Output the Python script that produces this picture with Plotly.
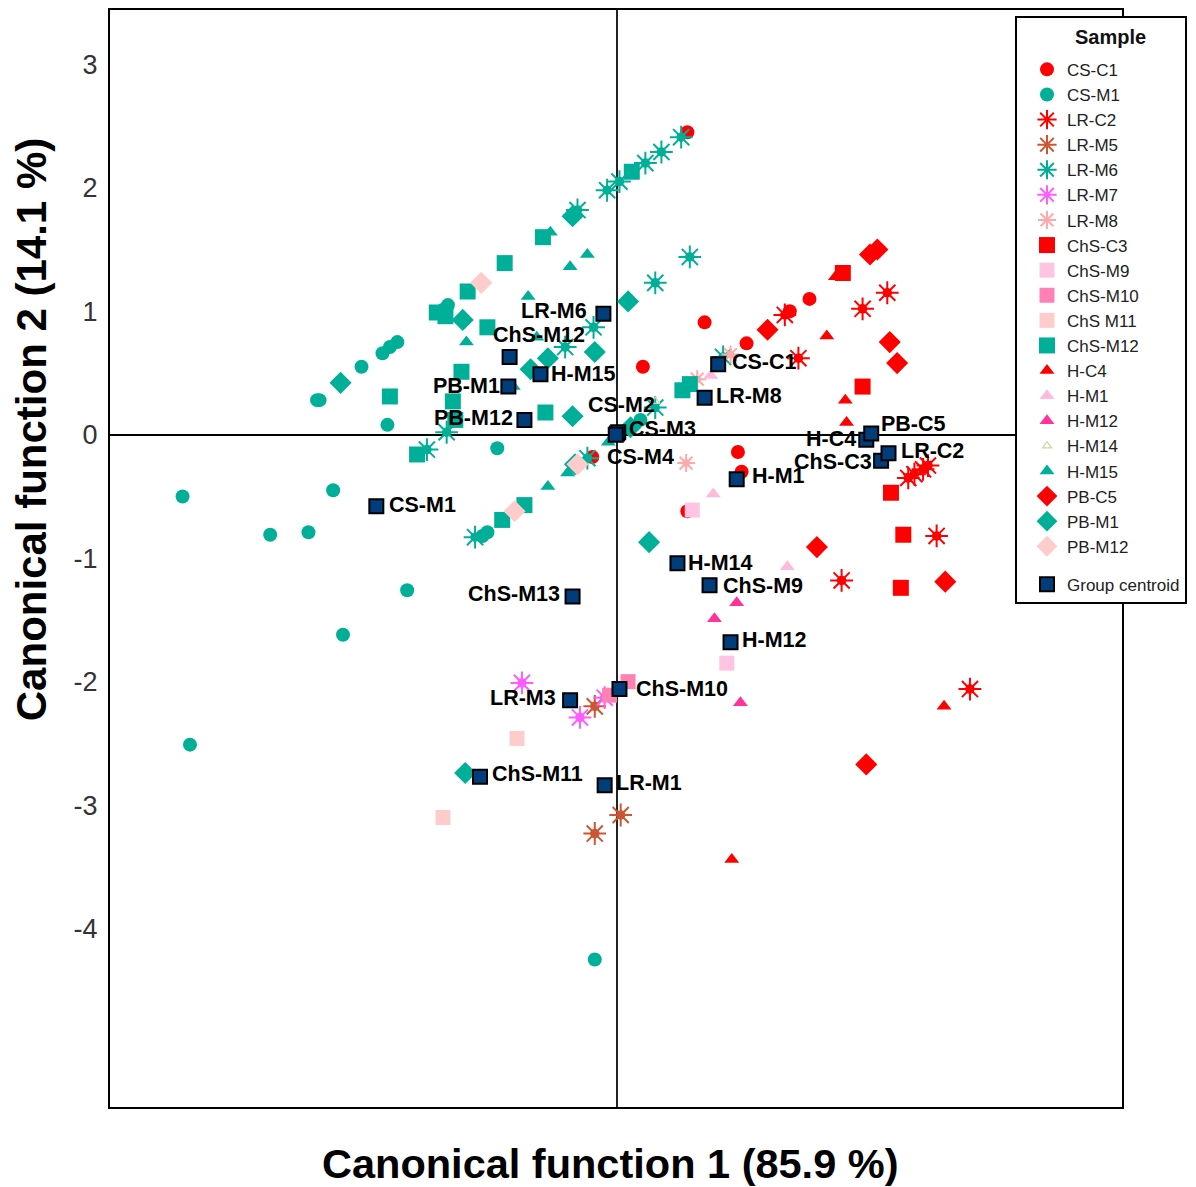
import plotly.graph_objects as go

FONT = "Liberation Sans"

# ---- discriminant scores (function 1, function 2) per sample group ----
cs_c1_x = [0.57, 0.71, 0.21, 0.98, 1.01, 1.05, 1.40, 1.56, 0.57, -0.20]
cs_c1_y = [2.45, 0.91, 0.55, -0.14, -0.30, 0.74, 1.00, 1.10, -0.62, -0.18]

cs_m1_x = [-3.52, -2.81, -2.50, -2.30, -1.70, -2.22, -3.46, -0.18, -1.86, -0.97,
           -2.41, -2.43, -2.07, -1.78, -1.84, -1.90, -1.05, -1.09, -1.41, -1.37, 0.19]
cs_m1_y = [-0.50, -0.81, -0.79, -0.45, -1.26, -1.62, -2.51, -4.25, 0.08, -0.11,
           0.28, 0.28, 0.55, 0.75, 0.71, 0.66, -0.79, -0.82, 1.01, 1.05, 0.12]

lr_c2_x = [2.19, 1.99, 1.47, 1.36, 2.59, 1.82, 2.86, 2.36, 2.48, 2.41, 2.52]
lr_c2_y = [1.15, 1.02, 0.62, 0.97, -0.82, -1.18, -2.06, -0.35, -0.28, -0.32, -0.25]

lr_m5_x = [-0.18, 0.03, -0.18]
lr_m5_y = [-2.20, -3.08, -3.23]

lr_m6_x = [0.52, 0.36, 0.23, 0.02, -0.08, -0.32, 0.59, 0.31, -0.19, -0.42,
           -1.38, -1.54, -1.15, 0.31, -0.24, 0.86]
lr_m6_y = [2.41, 2.29, 2.20, 2.05, 1.98, 1.82, 1.44, 1.23, 0.87, 0.71,
           0.02, -0.12, -0.83, 0.22, -0.19, 0.63]

lr_m7_x = [-0.77, -0.30, -0.10]
lr_m7_y = [-2.01, -2.29, -2.13]

lr_m8_x = [0.56, 0.65, 0.92]
lr_m8_y = [-0.23, 0.45, 0.65]

chs_c3_x = [1.83, 1.99, 2.22, 2.32, 2.30]
chs_c3_y = [1.31, 0.39, -0.47, -0.81, -1.24]

chs_m9_x = [0.61, 0.89]
chs_m9_y = [-0.61, -1.85]

chs_m10_x = [0.09, -0.06]
chs_m10_y = [-2.00, -2.11]

chs_m11_x = [-0.81, -1.41]
chs_m11_y = [-2.46, -3.10]

chs_m12_x = [0.12, -0.60, -0.91, -1.21, -1.46, -1.05, -1.26, -1.84, -1.33, -0.58,
             0.53, -1.62, -0.93, -0.75, -1.39, 0.59, -1.31]
chs_m12_y = [2.13, 1.60, 1.39, 1.16, 0.99, 0.87, 0.51, 0.31, 0.27, 0.18,
             0.36, -0.16, -0.69, -0.57, 0.96, 0.41, 0.12]

chs_m13_x = []
chs_m13_y = []

h_c4_x = [1.77, 1.70, 1.85, 1.86, 2.65, 0.93]
h_c4_y = [1.28, 0.80, 0.28, 0.10, -2.20, -3.44]

h_m1_x = [0.78, 1.38, 0.76]
h_m1_y = [-0.48, -1.07, 0.48]

h_m12_x = [0.97, 0.79, 1.00]
h_m12_y = [-1.36, -1.49, -2.17]

h_m14_x = [0.31]
h_m14_y = [0.27]

h_m15_x = [-0.24, -0.38, -0.72, -1.22, -0.54, -0.56, -0.40, -0.07, -0.84, -0.65]
h_m15_y = [1.46, 1.36, 1.12, 0.75, 1.64, -0.42, -0.31, -0.06, 0.39, 0.79]

pb_c5_x = [2.11, 2.05, 1.22, 2.21, 2.27, 1.62, 2.66, 2.02]
pb_c5_y = [1.50, 1.46, 0.85, 0.75, 0.58, -0.91, -1.19, -2.67]

pb_m1_x = [-0.36, 0.09, -2.24, -1.25, -0.56, -0.18, -0.36, 0.26, -1.23, -0.34, -0.70, 0.11]
pb_m1_y = [1.77, 1.08, 0.42, 0.93, 0.62, 0.67, 0.15, -0.87, -2.74, -0.24, 0.53, 0.06]

pb_m12_x = [-1.10, -0.83, -0.32]
pb_m12_y = [1.23, -0.62, -0.24]

# ---- group centroids ----
centroid_names = ["LR-M6", "ChS-M12", "H-M15", "PB-M1", "PB-M12", "CS-M2", "CS-M3", "CS-M4",
                  "CS-C1", "LR-M8", "CS-M1", "H-C4", "PB-C5", "ChS-C3", "LR-C2", "H-M1",
                  "H-M14", "ChS-M9", "ChS-M13", "H-M12", "ChS-M10", "LR-M3", "ChS-M11", "LR-M1"]
centroid_x = [-0.11, -0.87, -0.62, -0.88, -0.75, 0.00, 0.01, -0.01,
              0.82, 0.71, -1.95, 2.02, 2.06, 2.14, 2.20, 0.97,
              0.49, 0.75, -0.36, 0.92, 0.02, -0.38, -1.11, -0.10]
centroid_y = [0.98, 0.63, 0.49, 0.39, 0.12, 0.01, 0.02, 0.00,
              0.57, 0.30, -0.58, -0.04, 0.01, -0.21, -0.15, -0.36,
              -1.04, -1.22, -1.31, -1.68, -2.06, -2.15, -2.77, -2.84]

y_tick_vals = [3, 2, 1, 0, -1, -2, -3, -4]
y_tick_text = ["3", "2", "1", "0", "-1", "-2", "-3", "-4"]

# ---- styling ----
RED = "#FF0000"
TEAL = "#00AF98"

series = [
    ("CS-C1", cs_c1_x, cs_c1_y, "circle", RED, 14),
    ("CS-M1", cs_m1_x, cs_m1_y, "circle", TEAL, 14),
    ("LR-C2", lr_c2_x, lr_c2_y, "burst", RED, 19),
    ("LR-M5", lr_m5_x, lr_m5_y, "burst", "#CC5533", 19),
    ("LR-M6", lr_m6_x, lr_m6_y, "burst", TEAL, 19),
    ("LR-M7", lr_m7_x, lr_m7_y, "burst", "#FF5CFF", 19),
    ("LR-M8", lr_m8_x, lr_m8_y, "burst", "#FFAAAA", 15),
    ("ChS-C3", chs_c3_x, chs_c3_y, "square", RED, 16),
    ("ChS-M9", chs_m9_x, chs_m9_y, "square", "#FFC4E2", 15),
    ("ChS-M10", chs_m10_x, chs_m10_y, "square", "#FF80B2", 15),
    ("ChS M11", chs_m11_x, chs_m11_y, "square", "#FFCCCC", 15),
    ("ChS-M12", chs_m12_x, chs_m12_y, "square", TEAL, 16),
    ("ChS-M13", chs_m13_x, chs_m13_y, "square", "#FFCCCC", 15),
    ("H-C4", h_c4_x, h_c4_y, "triangle-up", RED, 13),
    ("H-M1", h_m1_x, h_m1_y, "triangle-up", "#FFBBDD", 13),
    ("H-M12", h_m12_x, h_m12_y, "triangle-up", "#FF3399", 13),
    ("H-M14", h_m14_x, h_m14_y, "triangle-up-open", "#D8D0B0", 8),
    ("H-M15", h_m15_x, h_m15_y, "triangle-up", TEAL, 13),
    ("PB-C5", pb_c5_x, pb_c5_y, "diamond", RED, 17),
    ("PB-M1", pb_m1_x, pb_m1_y, "diamond", TEAL, 17),
    ("PB-M12", pb_m12_x, pb_m12_y, "diamond", "#FFCCCC", 17),
]

fig = go.Figure()

for name, xs, ys, sym, col, size in series:
    if sym == "burst":
        # starburst: spiky asterisk with a filled core
        fig.add_trace(go.Scatter(
            x=xs, y=ys, mode="markers", name=name, legendgroup="samples",
            marker=dict(symbol="asterisk-open", size=size, color=col,
                        line=dict(color=col, width=2)),
        ))
        fig.add_trace(go.Scatter(
            x=xs, y=ys, mode="markers", name=name, legendgroup="samples",
            showlegend=False, hoverinfo="skip",
            marker=dict(symbol="circle", size=size * 0.5, color=col, line=dict(width=0)),
        ))
    elif sym.endswith("-open"):
        fig.add_trace(go.Scatter(
            x=xs, y=ys, mode="markers", name=name, legendgroup="samples",
            marker=dict(symbol=sym, size=size, color=col, line=dict(color=col, width=1.2)),
        ))
    else:
        fig.add_trace(go.Scatter(
            x=xs, y=ys, mode="markers", name=name, legendgroup="samples",
            marker=dict(symbol=sym, size=size, color=col, line=dict(width=0)),
        ))

fig.add_trace(go.Scatter(
    x=centroid_x, y=centroid_y, mode="markers", name="Group centroid",
    legendgroup="centroid",
    marker=dict(symbol="square", size=14, color="#003D7A",
                line=dict(color="black", width=2)),
    hovertext=centroid_names,
))

# label placement beside each centroid: (anchor, x shift px, y shift px)
label_place = {
    "LR-M6": ("right", -14, 3), "ChS-M12": ("left", -19, 22), "H-M15": ("left", 9, 0),
    "PB-M1": ("right", -6, 1), "PB-M12": ("right", -9, 2), "CS-M2": ("left", -31, 28),
    "CS-M3": ("left", 9, 3), "CS-M4": ("left", -11, -22), "CS-C1": ("left", 12, 2),
    "LR-M8": ("left", 9, 2), "CS-M1": ("left", 11, 1), "H-C4": ("right", -8, 1),
    "PB-C5": ("left", 8, 9), "ChS-C3": ("right", -7, -1), "LR-C2": ("left", 10, 2),
    "H-M1": ("left", 13, 3), "H-M14": ("left", 9, 0), "ChS-M9": ("left", 11, -1),
    "ChS-M13": ("right", -11, 2), "H-M12": ("left", 9, 2), "ChS-M10": ("left", 15, 0),
    "LR-M3": ("right", -12, 2), "ChS-M11": ("left", 10, 3), "LR-M1": ("left", 9, 2),
}

annotations = []
for nm, cx, cy in zip(centroid_names, centroid_x, centroid_y):
    anchor, dx, dy = label_place[nm]
    annotations.append(dict(
        x=cx, y=cy, xref="x", yref="y", text="<b>%s</b>" % nm, showarrow=False,
        xanchor=anchor, yanchor="middle", xshift=dx, yshift=dy,
        font=dict(family=FONT, size=21.5, color="black"),
    ))

annotations.append(dict(
    x=0.4945, y=-0.0748, xref="paper", yref="paper", showarrow=False,
    text="<b>Canonical function 1 (85.9 %)</b>", xanchor="center", yanchor="bottom",
    font=dict(family=FONT, size=41.5, color="black"),
))
annotations.append(dict(
    x=-0.078, y=0.617, xref="paper", yref="paper", showarrow=False, textangle=-90,
    text="<b>Canonical function 2 (14.1 %)</b>", xanchor="center", yanchor="middle",
    font=dict(family=FONT, size=42, color="black"),
))
# legend heading
annotations.append(dict(
    x=(1110 - 110) / 1012, y=(1107 - 37) / 1097, xref="paper", yref="paper",
    showarrow=False, text="<b>Sample</b>", xanchor="center", yanchor="middle",
    font=dict(family=FONT, size=20, color="#111"),
))

fig.update_layout(
    width=1196, height=1187,
    margin=dict(l=110, r=74, t=10, b=80, autoexpand=False),
    paper_bgcolor="white", plot_bgcolor="white",
    font=dict(family=FONT, color="#222"),
    annotations=annotations,
    xaxis=dict(range=[-4.108, 4.092], showticklabels=False, ticks="", showgrid=False,
               zeroline=True, zerolinecolor="#222", zerolinewidth=1.5,
               showline=True, mirror=True, linecolor="black", linewidth=2),
    yaxis=dict(range=[-5.445, 3.44], tickvals=y_tick_vals, ticktext=y_tick_text,
               showgrid=False, zeroline=True, zerolinecolor="black", zerolinewidth=2,
               showline=True, mirror=True, linecolor="black", linewidth=2,
               ticks="outside", ticklen=5, tickcolor="rgba(0,0,0,0)",
               tickfont=dict(family=FONT, size=27, color="#333")),
    legend=dict(
        x=(1015 - 110) / 1012, xanchor="left", y=1 - 6 / 1097, yanchor="top",
        bgcolor="white", bordercolor="black", borderwidth=2,
        font=dict(family=FONT, size=17, color="#222"),
        title=dict(text="<span style='font-size:20px'> </span>", side="top",
                   font=dict(family=FONT, size=26, color="#111")),
        tracegroupgap=13, itemwidth=30, indentation=10,
        entrywidth=168, entrywidthmode="pixels",
    ),
    showlegend=True,
)

fig.write_html("out.html")
